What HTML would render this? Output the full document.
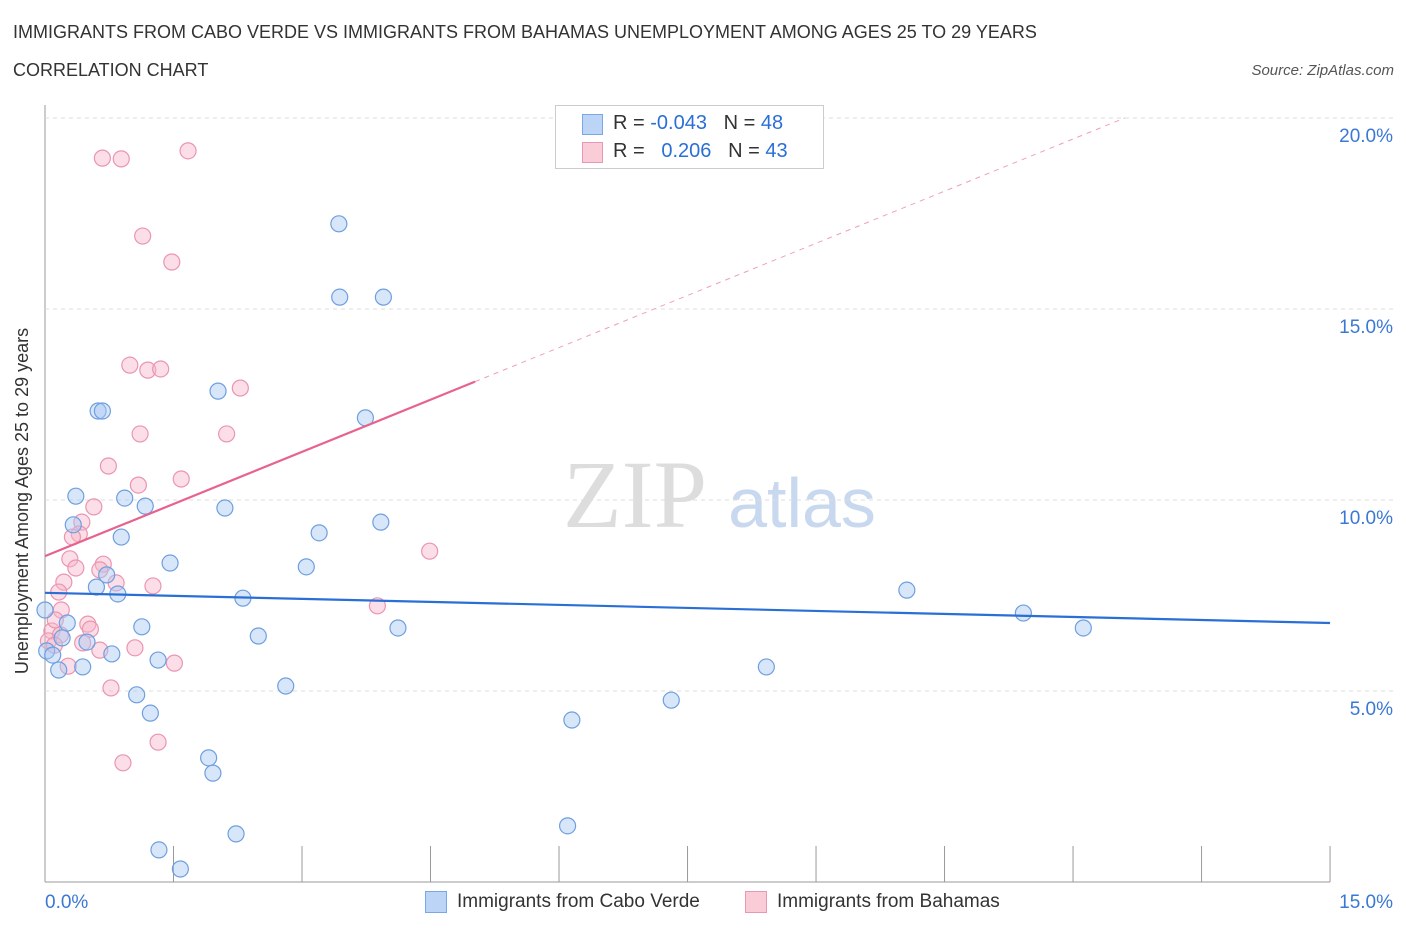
<!DOCTYPE html>
<html><head><meta charset="utf-8"><style>
body{margin:0;background:#fff;font-family:"Liberation Sans",sans-serif;}
#wrap{position:relative;width:1406px;height:930px;overflow:hidden;}
.t{position:absolute;white-space:nowrap;}
</style></head><body>
<div id="wrap">
<div class="t" style="left:13px;top:22px;font-size:18px;color:#333;">IMMIGRANTS FROM CABO VERDE VS IMMIGRANTS FROM BAHAMAS UNEMPLOYMENT AMONG AGES 25 TO 29 YEARS</div>
<div class="t" style="left:13px;top:60px;font-size:18px;color:#333;">CORRELATION CHART</div>
<div class="t" style="right:12px;top:62px;font-size:15px;color:#555;font-style:italic;">Source: ZipAtlas.com</div>
<svg id="svg" width="1406" height="930" style="position:absolute;left:0;top:0">
<text x="635" y="527" font-family="Liberation Serif" font-size="96" fill="#ddd" text-anchor="middle">ZIP</text>
<text x="802" y="527" font-family="Liberation Sans" font-size="70" fill="#c8d8ee" text-anchor="middle">atlas</text>
<text x="22" y="495" font-size="18" fill="#333" text-anchor="middle" transform="rotate(-90 28 495)">Unemployment Among Ages 25 to 29 years</text>
</svg>
<div style="position:absolute;left:555px;top:105px;width:267px;height:62px;border:1px solid #ccc;background:#fff;font-size:20px;">
 <div style="position:absolute;left:26px;top:8px;width:19px;height:19px;background:#bcd4f5;border:1px solid #7aa7e6"></div>
 <div class="t" style="left:57px;top:6px;color:#333">R = <span style="color:#2a6fd6">-0.043</span>&nbsp;&nbsp;&nbsp;N = <span style="color:#2a6fd6">48</span></div>
 <div style="position:absolute;left:26px;top:36px;width:19px;height:19px;background:#f9ccd8;border:1px solid #e898b0"></div>
 <div class="t" style="left:57px;top:34px;color:#333">R = &nbsp;&nbsp;<span style="color:#2a6fd6">0.206</span>&nbsp;&nbsp;&nbsp;N = <span style="color:#2a6fd6">43</span></div>
</div>
<div style="position:absolute;left:425px;top:891px;width:20px;height:20px;background:#bcd4f5;border:1px solid #7aa7e6"></div>
<div class="t" style="left:457px;top:891px;font-size:19px;color:#333">Immigrants from Cabo Verde</div>
<div style="position:absolute;left:745px;top:891px;width:20px;height:20px;background:#f9ccd8;border:1px solid #e898b0"></div>
<div class="t" style="left:777px;top:891px;font-size:19px;color:#333">Immigrants from Bahamas</div>
</div>
<script>
const blueX=[3.43,3.44,3.95,2.02,0.62,0.67,3.74,0.36,0.93,1.17,2.10,0.33,3.92,3.20,0.89,1.46,3.05,0.72,0.60,0.85,2.31,10.06,11.42,12.12,0.0,0.26,1.13,4.12,2.49,0.20,0.49,0.02,0.09,0.78,1.32,0.44,0.16,8.42,2.81,1.07,7.31,1.23,6.15,1.91,1.96,2.23,6.10,1.33,1.58];
const blueY=[17.23,15.31,15.31,12.85,12.33,12.33,12.15,10.10,10.05,9.84,9.79,9.35,9.42,9.14,9.03,8.35,8.25,8.04,7.72,7.54,7.43,7.64,7.04,6.65,7.12,6.78,6.68,6.65,6.44,6.39,6.28,6.05,5.94,5.97,5.81,5.63,5.55,5.63,5.13,4.90,4.76,4.42,4.24,3.25,2.85,1.26,1.47,0.84,0.34];
const pinkX=[0.67,0.89,1.67,1.14,1.48,0.99,1.20,1.35,2.28,1.11,2.12,0.74,1.59,1.09,0.57,0.43,0.40,0.32,0.29,0.68,0.36,0.64,0.22,0.83,1.26,0.16,0.19,4.49,3.88,0.50,0.53,0.08,0.18,0.04,0.44,0.11,0.64,1.05,1.51,0.27,0.77,1.32,0.91,0.12];
const pinkY=[18.95,18.93,19.14,16.91,16.23,13.53,13.40,13.43,12.93,11.73,11.73,10.89,10.55,10.39,9.82,9.42,9.11,9.03,8.46,8.32,8.22,8.17,7.85,7.83,7.75,7.59,7.12,8.66,7.23,6.75,6.62,6.57,6.47,6.31,6.26,6.20,6.07,6.13,5.73,5.65,5.08,3.66,3.12,6.86];
const blueTrend=[7.57,6.78];
const pinkTrend=[8.53,0.91];
const yTicks=[5,10,15,20];
const xTicks=[0,1.5,3,4.5,6,7.5,9,10.5,12,13.5,15];
const X=v=>45+v*85.67, Y=v=>882-v*38.2;
const svg=document.getElementById('svg'),NS='http://www.w3.org/2000/svg';
function mk(t,a){const e=document.createElementNS(NS,t);for(const k in a)e.setAttribute(k,a[k]);svg.appendChild(e);return e;}
let e=mk('line',{x1:45,y1:105,x2:45,y2:882,stroke:'#999'});


e=mk('line',{x1:45,y1:882,x2:1330,y2:882,stroke:'#999'});


yTicks.forEach(v=>{
 e=mk('line',{x1:45,y1:Y(v),x2:1395,y2:Y(v),stroke:'#ddd','stroke-dasharray':'4,4'});
 
 
 e=mk('text',{x:1393,y:Y(v)+24,'text-anchor':'end','font-size':19,fill:'#3a78d4'});
 e.textContent=v.toFixed(1)+'%';
 
 
});
xTicks.forEach(v=>{
 e=mk('line',{x1:X(v),y1:846,x2:X(v),y2:882,stroke:'#999'});
 
 
});
e=mk('text',{x:45,y:908,'font-size':19,fill:'#3a78d4'});e.textContent='0.0%';


e=mk('text',{x:1393,y:908,'font-size':19,fill:'#3a78d4','text-anchor':'end'});e.textContent='15.0%';


pinkX.forEach((x,i)=>{
 e=mk('circle',{cx:X(x),cy:Y(pinkY[i]),r:8,fill:'rgba(246,182,202,0.45)',stroke:'#eb95b0','stroke-width':1.2});
 
 
});
blueX.forEach((x,i)=>{
 e=mk('circle',{cx:X(x),cy:Y(blueY[i]),r:8,fill:'rgba(168,200,242,0.45)',stroke:'#6e9fe0','stroke-width':1.2});
 
 
});
e=mk('line',{x1:X(0),y1:Y(blueTrend[0]),x2:X(15),y2:Y(blueTrend[1]),stroke:'#2a6fd6','stroke-width':2.2});


const xe=5.02, xd=(20-pinkTrend[0])/pinkTrend[1];
e=mk('line',{x1:X(0),y1:Y(pinkTrend[0]),x2:X(xe),y2:Y(pinkTrend[0]+pinkTrend[1]*xe),stroke:'#e8628e','stroke-width':2.2});


e=mk('line',{x1:X(xe),y1:Y(pinkTrend[0]+pinkTrend[1]*xe),x2:X(xd),y2:Y(20),stroke:'#eea0b8','stroke-width':1,'stroke-dasharray':'5,5'});


</script>
</body></html>
